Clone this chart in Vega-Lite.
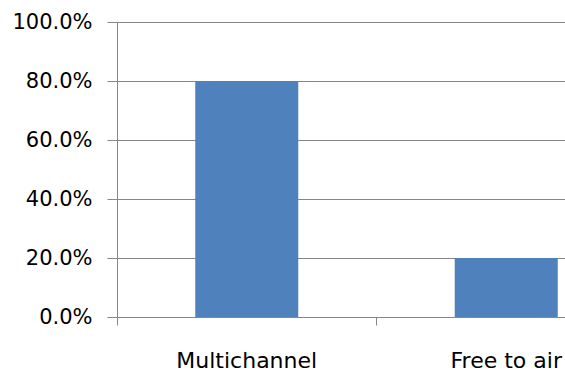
{
  "$schema": "https://vega.github.io/schema/vega-lite/v6.json",
  "width": 448,
  "height": 295,
  "autosize": {"type": "none"},
  "padding": {"left": 117, "top": 22, "right": 0, "bottom": 54},
  "background": "white",
  "config": {
    "view": {"stroke": null},
    "font": "DejaVu Sans",
    "axis": {
      "domainColor": "#868686",
      "tickColor": "#868686",
      "gridColor": "#868686",
      "labelColor": "#000000",
      "labelFont": "DejaVu Sans",
      "title": null
    }
  },
  "data": {
    "values": [
      {"platform": "Multichannel", "share": 0.8},
      {"platform": "Free to air", "share": 0.2}
    ]
  },
  "mark": {"type": "bar", "color": "#4F81BD"},
  "encoding": {
    "x": {
      "field": "platform",
      "type": "nominal",
      "sort": null,
      "scale": {"range": [0, 519], "paddingInner": 0.603, "paddingOuter": 0.3015},
      "axis": {
        "labelAngle": 0,
        "labelFontSize": 22,
        "labelBaseline": "alphabetic",
        "labelPadding": 42,
        "tickSize": 8,
        "bandPosition": -0.759,
        "domainWidth": 1,
        "grid": false
      }
    },
    "y": {
      "field": "share",
      "type": "quantitative",
      "scale": {"domain": [0, 1], "nice": false},
      "axis": {
        "values": [0, 0.2, 0.4, 0.6, 0.8, 1],
        "format": ".1%",
        "labelFontSize": 21,
        "tickSize": 10,
        "labelPadding": 15,
        "grid": true,
        "gridWidth": 1
      }
    }
  }
}
